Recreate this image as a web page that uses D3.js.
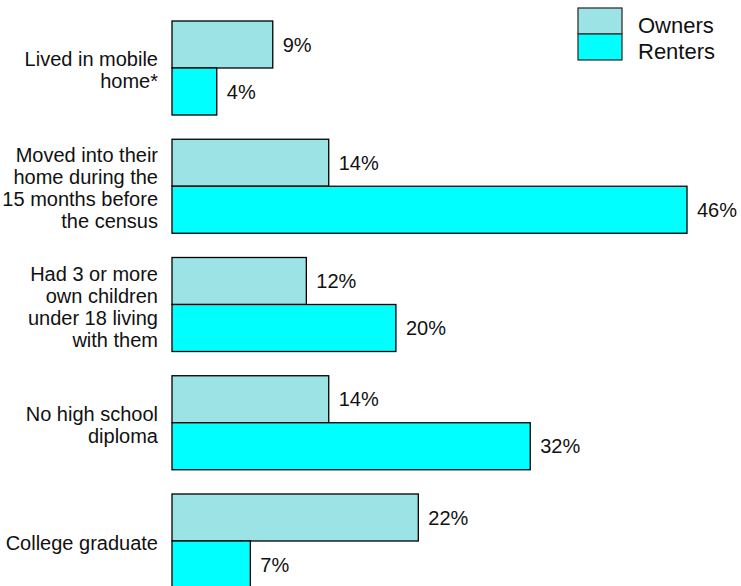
<!DOCTYPE html>
<html>
<head>
<meta charset="utf-8">
<script src="https://cdn.jsdelivr.net/npm/d3@7"></script>
<style>
    body { margin: 0; background: #fff; }
    text { font-family: "Liberation Sans", Arial, sans-serif; fill: #111; }
</style>
</head>
<body>
<div id="chart"></div>
<script>
// categories (multi-line labels) and series values, in percent
var categories = [
    ["Lived in mobile", "home*"],
    ["Moved into their", "home during the", "15 months before", "the census"],
    ["Had 3 or more", "own children", "under 18 living", "with them"],
    ["No high school", "diploma"],
    ["College graduate"]
];
var owners = [9, 14, 12, 14, 22];
var renters = [4, 46, 20, 32, 7];
var seriesNames = ["Owners", "Renters"];
var seriesColors = ["#9ce3e6", "#00ffff"];

var width = 741, height = 586;

var svg = d3.select("#chart").append("svg")
    .attr("width", width)
    .attr("height", height);

var keys = d3.range(categories.length);

var y = d3.scaleBand()
    .domain(keys)
    .range([21, 588])
    .paddingInner(0.205)
    .paddingOuter(0);

var x = d3.scaleLinear()
    .domain([0, 46])
    .range([172, 687]);

var sub = d3.scaleBand()
    .domain([0, 1])
    .range([0, y.bandwidth()]);

var rows = keys.map(function (i) {
    return { i: i, values: [owners[i], renters[i]] };
});

var group = svg.selectAll(".group")
    .data(rows)
    .enter().append("g")
    .attr("class", "group")
    .attr("transform", function (d) { return "translate(0," + y(d.i) + ")"; });

var bar = group.selectAll(".bar")
    .data(function (d) { return d.values.map(function (v, s) { return { v: v, s: s }; }); })
    .enter();

bar.append("rect")
    .attr("x", x(0))
    .attr("y", function (d) { return sub(d.s); })
    .attr("width", function (d) { return x(d.v) - x(0); })
    .attr("height", sub.bandwidth())
    .attr("fill", function (d) { return seriesColors[d.s]; })
    .attr("stroke", "#000")
    .attr("stroke-width", 1.3);

bar.append("text")
    .attr("x", function (d) { return x(d.v) + 10; })
    .attr("y", function (d) { return sub(d.s) + sub.bandwidth() / 2; })
    .attr("dy", "0.36em")
    .style("font-size", "20px")
    .text(function (d) { return d.v + "%"; });

// category labels, right aligned, centred on the group
var lineH = 22;
group.append("text")
    .attr("text-anchor", "end")
    .style("font-size", "20px")
    .each(function (d) {
        var lines = categories[d.i];
        var t = d3.select(this);
        var top = y.bandwidth() / 2 - (lines.length - 1) * lineH / 2 + 2;
        lines.forEach(function (l, k) {
            t.append("tspan")
                .attr("x", 158)
                .attr("y", top + k * lineH)
                .attr("dy", "0.36em")
                .text(l);
        });
    });

// legend
var legend = svg.append("g").attr("transform", "translate(578,8)");
legend.selectAll("rect")
    .data(seriesNames)
    .enter().append("rect")
    .attr("x", 0)
    .attr("y", function (d, i) { return i * 26; })
    .attr("width", 44)
    .attr("height", 26)
    .attr("fill", function (d, i) { return seriesColors[i]; })
    .attr("stroke", "#333")
    .attr("stroke-width", 1.3);
legend.selectAll("text")
    .data(seriesNames)
    .enter().append("text")
    .attr("x", 60)
    .attr("y", function (d, i) { return 17 + i * 26; })
    .attr("dy", "0.36em")
    .style("font-size", "22px")
    .text(function (d) { return d; });
</script>
</body>
</html>
